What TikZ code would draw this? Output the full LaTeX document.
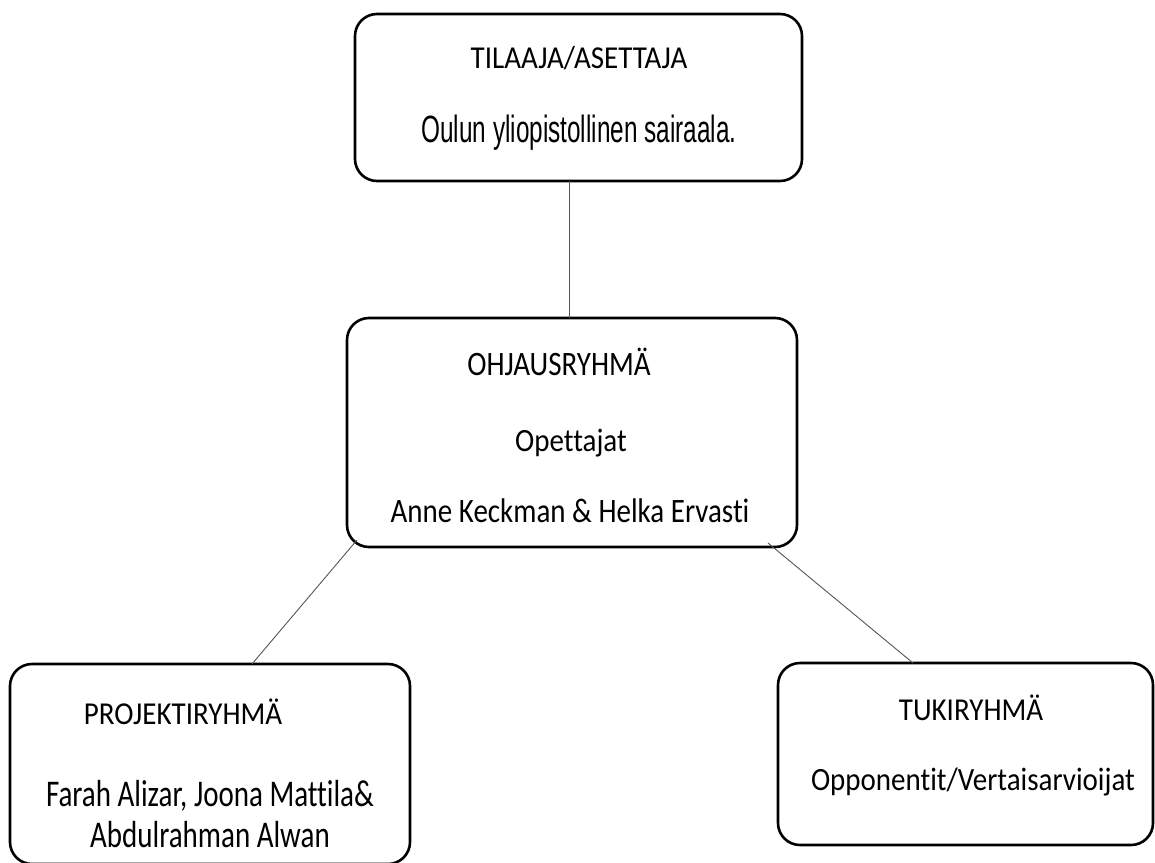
\documentclass[tikz,border=0pt]{standalone}
\usepackage{graphicx}
\usepackage{fontspec}
\setmainfont[Ligatures=NoCommon]{Carlito}
\newfontfamily\narrowfont[FakeStretch=0.64]{Liberation Sans}
\usetikzlibrary{positioning, calc}
\definecolor{orgline}{HTML}{000000}
\definecolor{orglink}{HTML}{555555}
\newcommand{\vstr}[2]{\scalebox{1}[#1]{#2}}

\begin{document}
\begin{tikzpicture}[x=1pt, y=-1pt,
    orgbox/.style={draw=orgline, line width=2.6pt, rounded corners=22pt,
                   fill=white, inner sep=0pt, outer sep=0pt},
    lbl/.style={anchor=base, inner sep=0pt, font=\fontsize{29}{35}\selectfont},
    link/.style={draw=orglink, line width=0.9pt}]
        \useasboundingbox (0,0) rectangle (1155,862);
        % boxes
        \node[orgbox, minimum width=447pt, minimum height=167pt] (top) at (578.5,97.5) {};
        \node[orgbox, minimum width=450pt, minimum height=229pt] (mid) at (572,432.5) {};
        \node[orgbox, minimum width=400pt, minimum height=200pt] (proj) at (210,764) {};
        \node[orgbox, minimum width=375pt, minimum height=182pt] (tuki) at (965.5,754) {};
        % texts
        \node[lbl] (topA) at (579,68) {\vstr{1.1}{TILAAJA/ASETTAJA}};
        \node[lbl, font=\narrowfont\fontsize{38}{44}\selectfont] (topB) at (579,142) {Oulun yliopistollinen sairaala.};
        \node[lbl] (midA) at (559,375) {\vstr{1.18}{OHJAUSRYHMÄ}};
        \node[lbl] (midB) at (571,451) {\vstr{1.12}{Opettajat}};
        \node[lbl] (midC) at (570,522) {\vstr{1.18}{Anne Keckman \& Helka Ervasti}};
        \node[lbl] (projA) at (183,724) {\vstr{1.1}{PROJEKTIRYHMÄ}};
        \node[lbl] (projB) at (210,806) {\vstr{1.3}{Farah Alizar, Joona Mattila\&}};
        \node[lbl] (projC) at (210,847) {\vstr{1.3}{Abdulrahman Alwan}};
        \node[lbl] (tukiA) at (971,720) {\vstr{1.1}{TUKIRYHMÄ}};
        \node[lbl] (tukiB) at (973,790) {\vstr{1.12}{Opponentit/Vertaisarvioijat}};
        % connectors
        \draw[link] ($(top.south)+(-9.5,0)$) -- ($(mid.north)+(-3,0)$);
        \draw[link] ($(mid.south west)+(10,-7)$) -- ($(proj.north)+(42,0)$);
        \draw[link] ($(mid.south east)+(-29,-4)$) -- ($(tuki.north)+(-52.5,0)$);
      \end{tikzpicture}
\end{document}
